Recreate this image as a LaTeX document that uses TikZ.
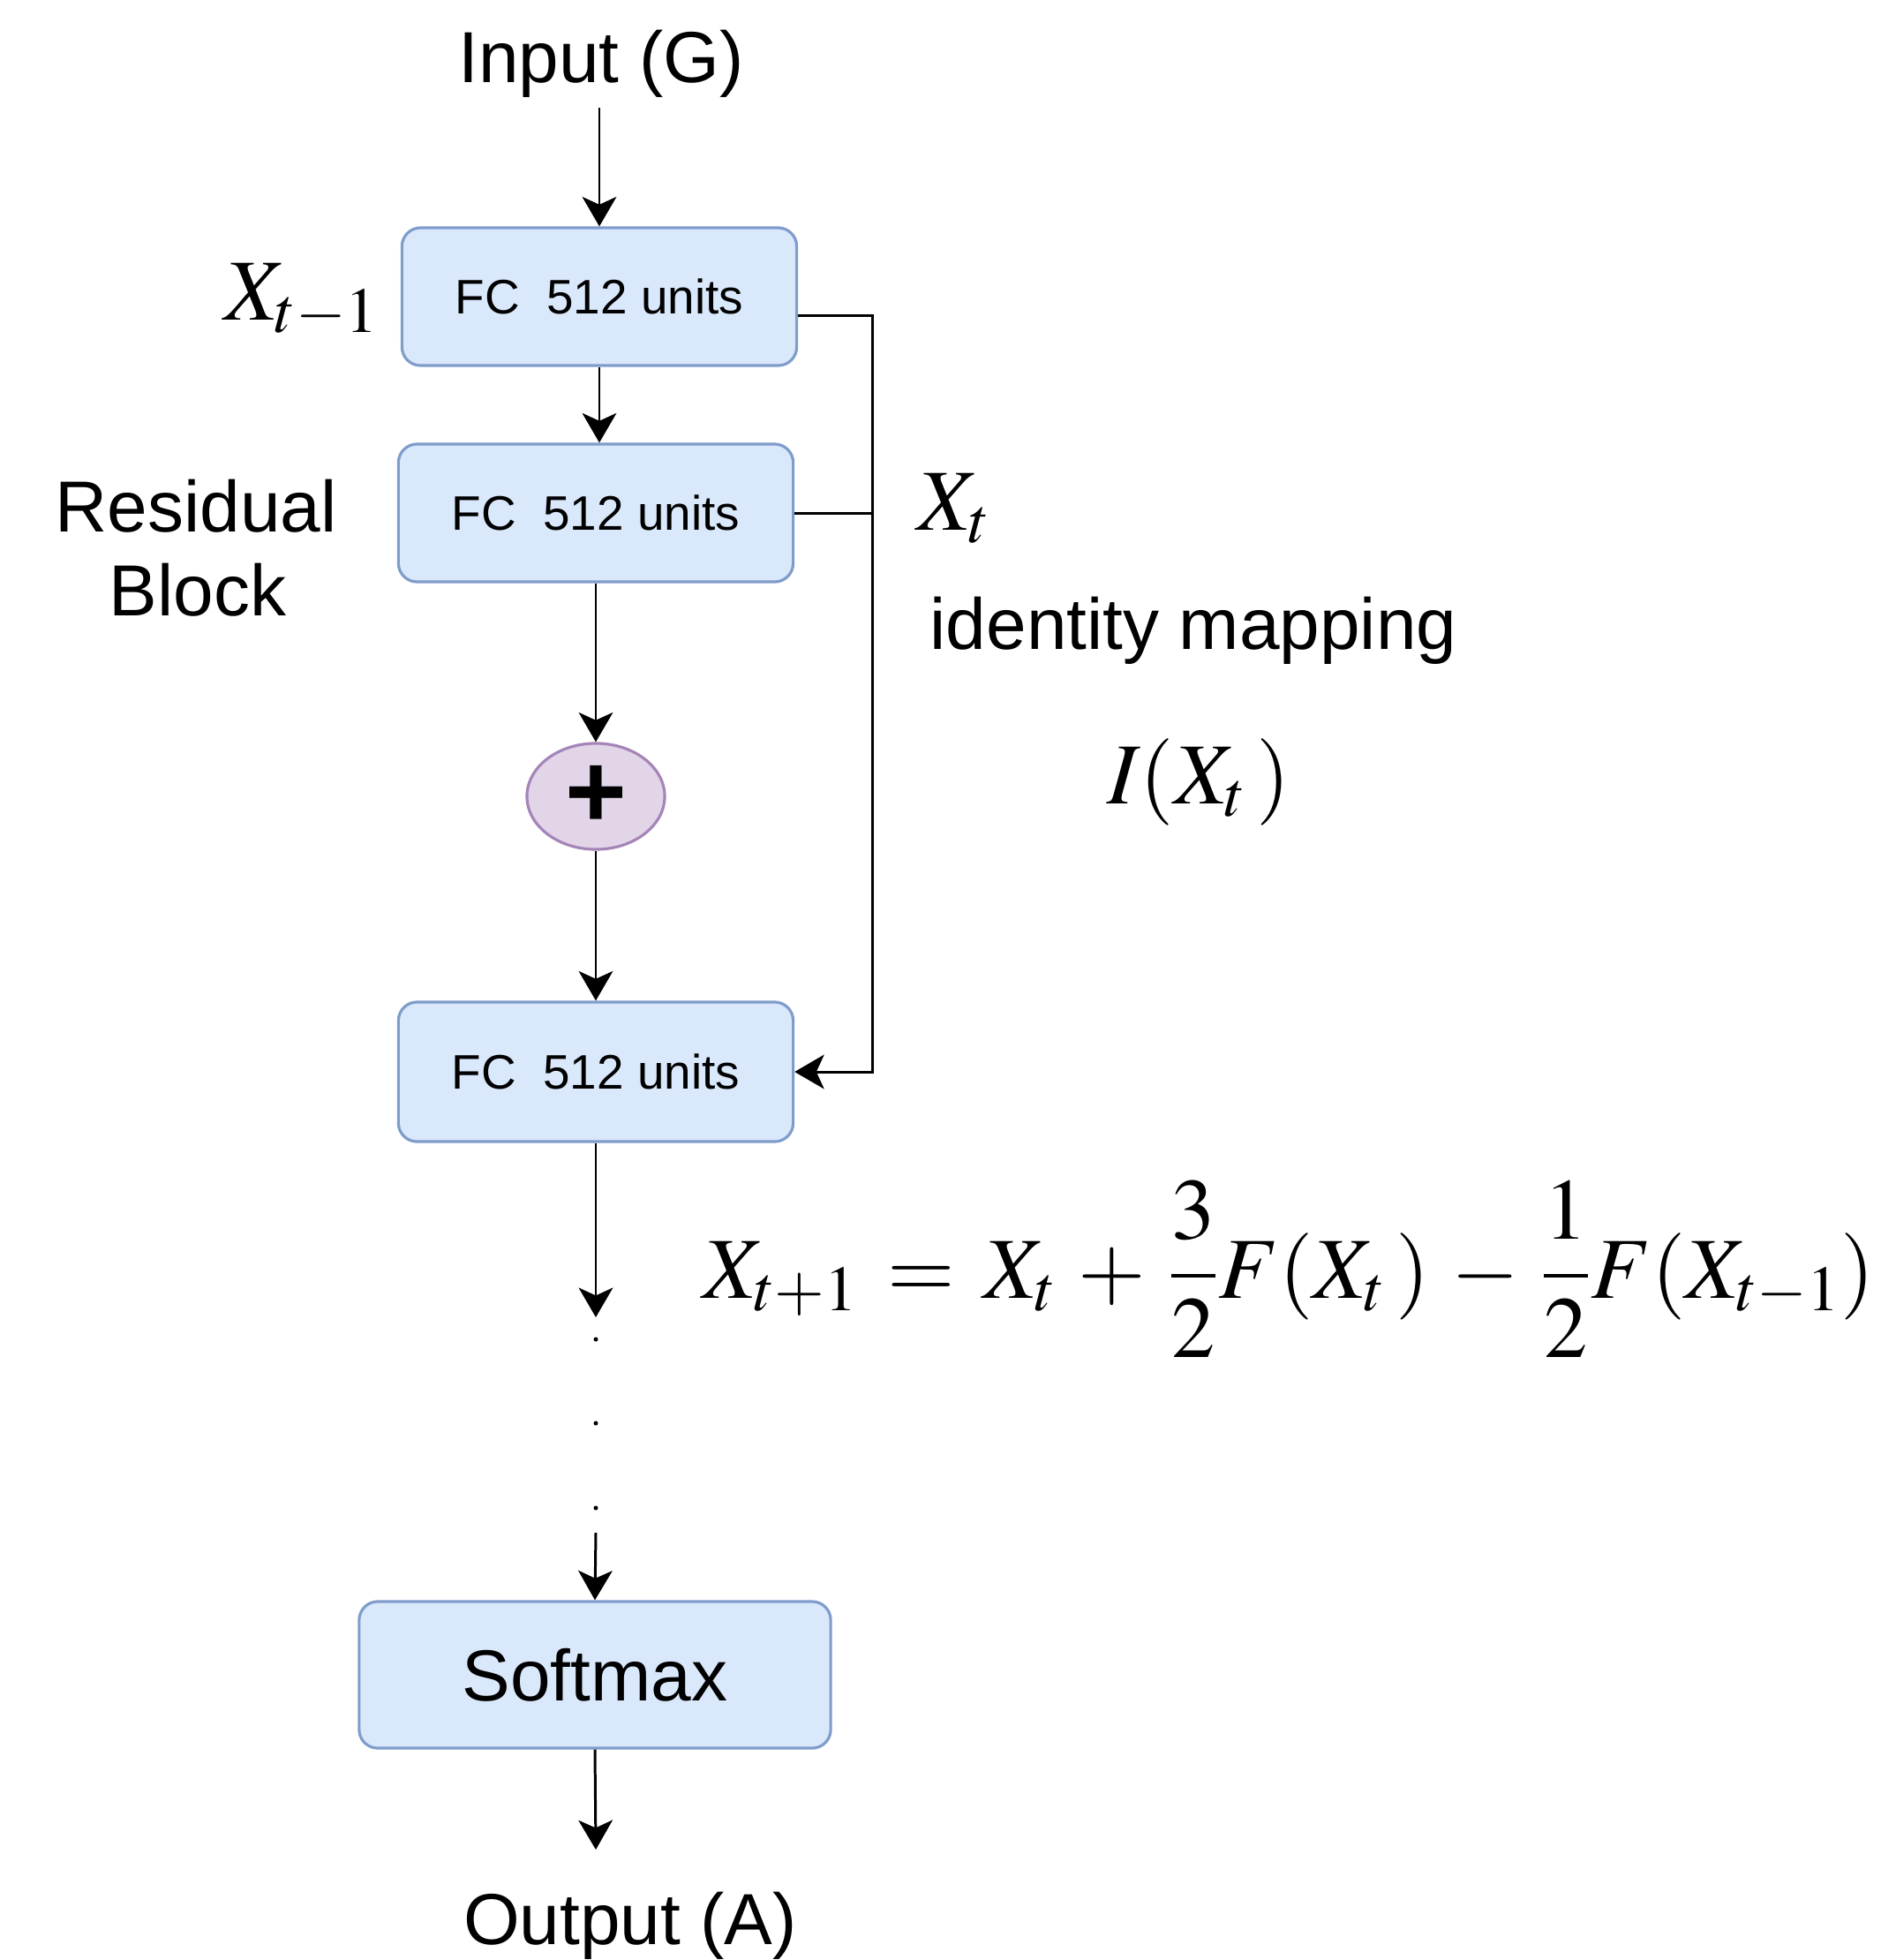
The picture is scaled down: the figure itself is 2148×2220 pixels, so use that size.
\documentclass[tikz,border=0pt]{standalone}
\usepackage{mathptmx}
\usepackage[no-math]{fontspec}
\setmainfont{Liberation Sans}
\usetikzlibrary{arrows.meta,calc,shapes.geometric}
\definecolor{boxfill}{HTML}{DAE8FC}
\definecolor{boxline}{HTML}{7F9CCB}
\definecolor{plusfill}{HTML}{E1D5E7}
\definecolor{plusline}{HTML}{A585B8}
\begin{document}
\begin{tikzpicture}[x=0.01cm,y=-0.01cm,
  box/.style={draw=boxline, fill=boxfill, line width=0.9pt, rounded corners=6pt,
    minimum width=4.47cm, minimum height=1.56cm, inner sep=0pt,
    font=\fontsize{15.6}{19}\selectfont},
  conn/.style={line width=0.85pt, draw=black},
  arr/.style={conn, -{Stealth[length=9.5pt,width=11pt,inset=2.5pt]}},
  lbl/.style={inner sep=0pt, font=\fontsize{23.3}{27}\selectfont},
  mth/.style={inner sep=0pt, font=\fontsize{28}{34}\selectfont},
  dotnode/.style={circle, fill=black, inner sep=0pt, minimum size=0.05cm},
]
\useasboundingbox (0,0) rectangle (2148,2220);
% main column
\node[lbl, anchor=base] (in) at (681,93) {Input (G)};
\node[box] (b1) at (679,336) {FC\ \ 512 units};
\node[box] (b2) at (675,581) {FC\ \ 512 units};
\node[ellipse, draw=plusline, fill=plusfill, line width=0.9pt,
  minimum width=1.56cm, minimum height=1.2cm, inner sep=0pt,
  font=\fontsize{34}{40}\selectfont\bfseries] (plus) at (675,902) {+};
\node[box, minimum height=1.58cm] (b3) at (675,1214) {FC\ \ 512 units};
\node[dotnode] (d1) at (675,1517) {};
\node[dotnode] (d2) at (675,1612) {};
\node[dotnode] (d3) at (675,1708) {};
\node[box, minimum width=5.34cm, minimum height=1.66cm,
  font=\fontsize{23.3}{27}\selectfont] (sm) at (674,1897) {Softmax};
\node[lbl, anchor=base] (out) at (714,2202) {Output (A)};
% connectors
\coordinate (inb) at (679,122);
\draw[arr] (inb) -- (b1.north);
\draw[arr] (b1.south) -- (b1.south |- b2.north);
\draw[arr] (b2.south) -- (plus.north);
\draw[arr] (plus.south) -- (b3.north);
\coordinate (e1) at (675,1492);
\draw[arr] (b3.south) -- (e1);
\coordinate (s1) at (675,1736);
\draw[arr] (s1) -- (sm.north);
\coordinate (o) at (675,2095);
\draw[arr] (sm.south) -- (o);
% identity rail
\coordinate (r) at (988,0);
\coordinate (o1) at ($(b1.east)+(0,21)$);
\draw[arr] (o1) -| (r |- b3.east) -- (b3.east);
\draw[conn] (b2.east) -- (b2.east -| r);
% labels
\node[mth, anchor=base] (xtm1) at (342,362) {$X_{t-1}$};
\node[lbl, anchor=base] (res1) at (222,602) {Residual};
\node[lbl, anchor=base] (res2) at (224,697) {Block};
\node[mth, anchor=base west] (xt) at (1039,600) {$X_t$};
\node[lbl, anchor=base west] (idm) at (1053,735) {identity mapping};
\node[mth, anchor=base] (ixt) at (1358,910) {$I(X_t\,)$};
\node[mth, anchor=base] (eq) at (1460,1470)
  {$\displaystyle X_{t+1} \,=\, X_t \,+\, \frac{3}{2}F(X_t\,) \,-\, \frac{1}{2}F(X_{t-1})$};
\end{tikzpicture}
\end{document}
